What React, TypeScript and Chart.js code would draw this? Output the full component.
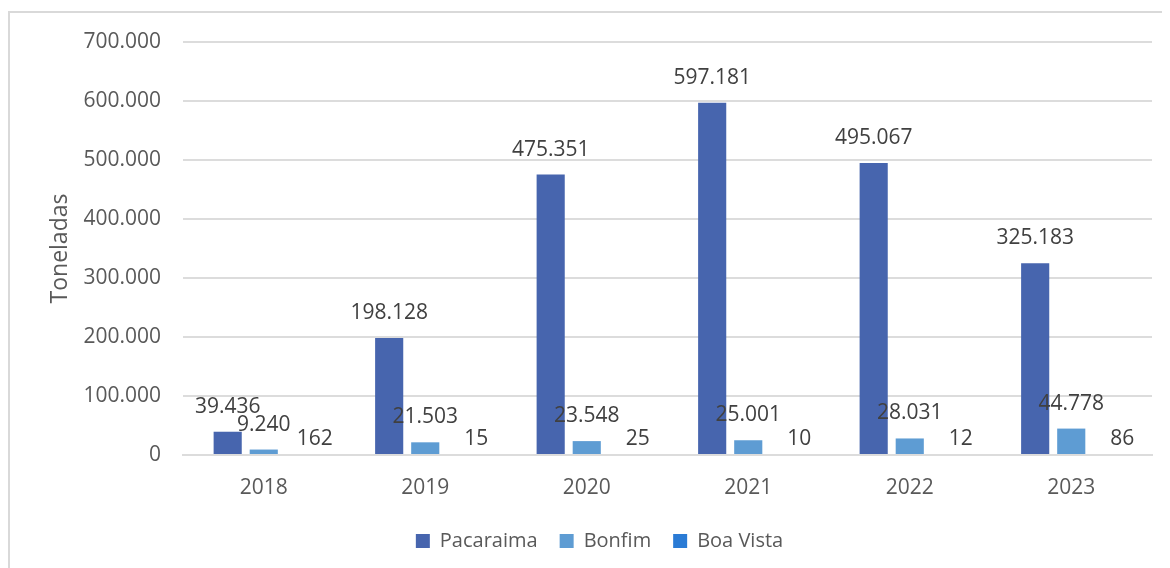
import React, { useEffect, useRef } from "react";
import { Chart, registerables } from "chart.js";

Chart.register(...registerables);

const categories = ["2018", "2019", "2020", "2021", "2022", "2023"];
const pacaraima = [39436, 198128, 475351, 597181, 495067, 325183];
const bonfim = [9240, 21503, 23548, 25001, 28031, 44778];
const boaVista = [162, 15, 25, 10, 12, 86];
const seriesNames = ["Pacaraima", "Bonfim", "Boa Vista"];
const seriesColors = ["#4765AE", "#5E9CD3", "#2A7BD5"];
const yTitle = "Toneladas";

const FONT = "'Open Sans', sans-serif";

function fmt(v: number): string {
  const s = Math.round(v).toString();
  return s.replace(/\B(?=(\d{3})+(?!\d))/g, ".");
}

const labelPlugin = {
  id: "barLabels",
  afterDatasetsDraw(chart: any) {
    const ctx = chart.ctx;
    ctx.save();
    ctx.font = `21px ${FONT}`;
    ctx.fillStyle = "#404040";
    ctx.textAlign = "center";
    ctx.textBaseline = "alphabetic";
    chart.data.datasets.forEach((ds: any, di: number) => {
      const meta = chart.getDatasetMeta(di);
      meta.data.forEach((bar: any, i: number) => {
        const v = ds.data[i];
        const dx = di === 2 ? 15 : 0;
        const dy = di === 2 ? 10 : 19;
        ctx.fillText(fmt(v), bar.x + dx, bar.y - dy);
      });
    });
    ctx.restore();
  },
};

export default function App() {
  const ref = useRef<HTMLCanvasElement | null>(null);
  useEffect(() => {
    if (!ref.current) return;
    const datasets = [pacaraima, bonfim, boaVista].map((d, i) => ({
      label: seriesNames[i],
      data: d,
      backgroundColor: seriesColors[i],
      borderWidth: 0,
      inflateAmount: 0,
      categoryPercentage: 0.67,
      barPercentage: 0.78,
    }));
    const chart = new Chart(ref.current, {
      type: "bar",
      data: { labels: categories, datasets },
      options: {
        animation: false,
        responsive: true,
        maintainAspectRatio: false,
        layout: { padding: { top: 29, right: 18, left: 37, bottom: 8 } },
        plugins: {
          tooltip: { enabled: false },
          legend: {
            position: "bottom",
            labels: {
              boxWidth: 14,
              boxHeight: 14,
              padding: 22,
              color: "#595959",
              font: { family: FONT, size: 20 },
            },
          },
        },
        scales: {
          x: {
            grid: { display: false },
            border: { display: true, color: "#dcdcdc", width: 2, z: 1 },
            afterFit: (s: any) => {
              s.height = 54;
            },
            ticks: {
              color: "#595959",
              padding: 12,
              font: { family: FONT, size: 21 },
            },
          },
          y: {
            min: 0,
            max: 700000,
            afterFit: (s: any) => {
              s.width = 136;
              s.paddingTop = 0;
              s.paddingBottom = 0;
            },
            grid: { color: "#dcdcdc", lineWidth: 2, drawTicks: false },
            border: { display: false },
            title: {
              display: true,
              text: yTitle,
              color: "#595959",
              font: { family: FONT, size: 23 },
              padding: { top: 0, bottom: 0 },
            },
            ticks: {
              stepSize: 100000,
              padding: 22,
              color: "#595959",
              font: { family: FONT, size: 21 },
              callback: (v: any) => fmt(Number(v)),
            },
          },
        },
      },
      plugins: [labelPlugin],
    });
    return () => chart.destroy();
  }, []);
  return (
    <div
      style={{
        marginTop: 3,
        borderTop: "2px solid #d9d9d9",
        borderLeft: "2px solid #d9d9d9",
        width: 1160,
        height: 556,
        position: "relative",
      }}
    >
      <canvas ref={ref} />
    </div>
  );
}
